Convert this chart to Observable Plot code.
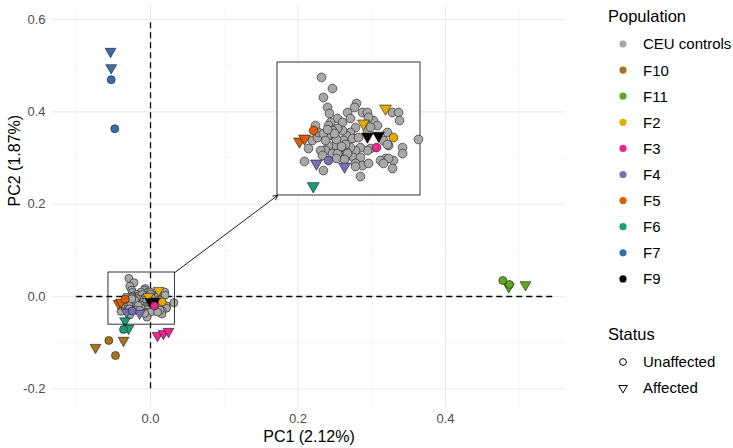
<!DOCTYPE html>
<html><head><meta charset="utf-8">
<script src="https://cdn.jsdelivr.net/npm/d3@7"></script>
<script src="https://cdn.jsdelivr.net/npm/@observablehq/plot@0.6"></script>
<style>
body{margin:0;background:#fff;font-family:"Liberation Sans",Arial,Helvetica,sans-serif;}
#wrap{position:relative;width:733px;height:448px;overflow:hidden;}
#legend{position:absolute;left:590px;top:0;}
</style></head><body><div id="wrap"></div>
<script>
// CEU controls (PC1, PC2)
const ceuPC1 = [-0.0293,-0.0224,-0.0281,-0.0255,-0.0243,-0.0073,-0.0085,-0.0129,-0.0035,-0.0004,0.0154,0.0192,0.0198,-0.0192,-0.0236,-0.0161,-0.0249,-0.0331,0.0034,0.0059,0.0003,-0.0004,-0.0111,-0.0079,-0.0111,-0.0136,-0.0161,-0.0192,-0.0224,-0.0249,-0.0205,-0.0155,-0.0098,-0.0060,0.0122,0.0097,0.0129,0.0217,0.0217,0.0160,0.0110,0.0078,0.0154,0.0015,-0.0004,-0.0048,-0.0079,-0.0111,-0.0142,-0.0173,-0.0205,-0.0249,-0.0268,-0.0224,-0.0192,-0.0142,-0.0092,-0.0048,-0.0079,-0.0035,0.0003,-0.0048,-0.0350,-0.0375,-0.0400,-0.0281,-0.0299,-0.0318,-0.0312,-0.0281,-0.0268,0.0317,-0.0142,-0.0129,0.0122,-0.0079,0.0129,0.0097,-0.0199,-0.0211,-0.0255,-0.0167,-0.0287,-0.0199,-0.0148,0.0015];
const ceuPC2 = [0.0393,0.0299,0.0223,0.0138,0.0087,0.0172,0.0138,0.0095,0.0095,0.0095,0.0095,0.0095,0.0027,0.0044,0.0010,0.0010,-0.0016,-0.0016,0.0027,-0.0016,0.0053,-0.0058,0.0044,-0.0033,-0.0075,-0.0101,-0.0058,-0.0041,-0.0058,-0.0101,-0.0118,-0.0143,-0.0126,-0.0118,-0.0075,-0.0143,-0.0186,-0.0203,-0.0254,-0.0313,-0.0296,-0.0313,-0.0381,-0.0211,-0.0228,-0.0203,-0.0228,-0.0203,-0.0228,-0.0203,-0.0186,-0.0186,-0.0228,-0.0254,-0.0254,-0.0287,-0.0287,-0.0287,-0.0338,-0.0356,-0.0338,-0.0449,-0.0143,-0.0211,-0.0321,-0.0398,-0.0228,-0.0118,-0.0075,-0.0084,-0.0143,-0.0134,-0.0177,-0.0254,-0.0177,-0.0364,-0.0296,-0.0338,-0.0134,-0.0084,-0.0050,-0.0194,-0.0270,-0.0296,-0.0304,-0.0030];

// Families
const famPop    = ["F2","F2","F2","F9","F9","F3","F3","F3","F3","F5","F5","F5","F4","F4","F4","F6","F6","F6","F10","F10","F10","F10","F7","F7","F7","F7","F11","F11","F11","F11"];
const famStatus = ["A","A","U","A","A","U","A","A","A","A","A","U","A","U","A","A","U","A","U","A","A","U","A","A","U","U","A","U","U","A"];
const famPC1    = [-0.0029,0.0110,0.0160,-0.0004,0.0066,0.0053,0.0095,0.0176,0.0244,-0.0432,-0.0400,-0.0343,-0.0325,-0.0249,-0.0148,-0.0345,-0.0366,-0.0298,-0.0565,-0.0746,-0.0366,-0.0475,-0.0542,-0.0533,-0.0533,-0.0484,0.4858,0.4777,0.4868,0.5085];
const famPC2    = [0.0002,0.0129,-0.0118,-0.0109,-0.0101,-0.0203,-0.0845,-0.0802,-0.0758,-0.0151,-0.0126,-0.0058,-0.0338,-0.0313,-0.0364,-0.0530,-0.0715,-0.0693,-0.0953,-0.1105,-0.0953,-0.1278,0.5310,0.4956,0.4696,0.3634,0.0210,0.0347,0.0260,0.0254];

const populations = ["CEU controls","F10","F11","F2","F3","F4","F5","F6","F7","F9"];
const popColors   = ["#a8a8a8","#a6761d","#66a61e","#e6ab02","#e7298a","#7570b3","#d95f02","#1b9e77","#386cb0","#000000"];
const statuses = ["Unaffected","Affected"];

const xTicks = [0, 0.2, 0.4];
const yTicks = [-0.2, 0, 0.2, 0.4, 0.6];
const xMinor = [-0.1, 0.1, 0.3, 0.5];
const yMinor = [-0.1, 0.1, 0.3, 0.5];

const zoomBox  = {x1: -0.057, x2: 0.033, y1: -0.061, y2: 0.052};
const insetBox = {x1: 0.1722, x2: 0.3661, y1: 0.2189, y2: 0.507};

const points = [
  ...ceuPC1.map((x, i) => ({pop: "CEU controls", status: "U", x, y: ceuPC2[i]})),
  ...famPop.map((p, i) => ({pop: p, status: famStatus[i], x: famPC1[i], y: famPC2[i]}))
];
const toInset = d => ({...d,
  x: insetBox.x1 + (d.x - zoomBox.x1) * (insetBox.x2 - insetBox.x1) / (zoomBox.x2 - zoomBox.x1),
  y: insetBox.y1 + (d.y - zoomBox.y1) * (insetBox.y2 - insetBox.y1) / (zoomBox.y2 - zoomBox.y1)});
const insetPoints = points.filter(d => d.x >= zoomBox.x1 && d.x <= zoomBox.x2 && d.y >= zoomBox.y1 && d.y <= zoomBox.y2).map(toInset);

const triDown = {draw(ctx, size) {
  const r = Math.sqrt(size / Math.PI);
  const R = 1.555 * r, xc = 1.347 * r, yc = 0.778 * r;
  ctx.moveTo(0, R); ctx.lineTo(xc, -yc); ctx.lineTo(-xc, -yc); ctx.closePath();
}};

const dotStyle = {x: "x", y: "y", fill: "pop", stroke: "#1a1a1a", strokeWidth: 0.6};
const layer = (data, r) => [
  Plot.dot(data.filter(d => d.pop === "CEU controls"), {...dotStyle, r, symbol: "circle"}),
  Plot.dot(data.filter(d => d.pop !== "CEU controls" && d.status === "A"), {...dotStyle, r, symbol: triDown}),
  Plot.dot(data.filter(d => d.pop !== "CEU controls" && d.status === "U"), {...dotStyle, r, symbol: "circle"})
];

const fmt = d => d.toFixed(1);
const chart = Plot.plot({
  width: 733, height: 448,
  marginLeft: 52, marginRight: 168, marginTop: 5, marginBottom: 41,
  x: {domain: [-0.1329, 0.5627]},
  y: {domain: [-0.2405, 0.6305]},
  color: {domain: populations, range: popColors},
  style: {fontFamily: '"Liberation Sans", Arial, sans-serif', background: "white", overflow: "visible"},
  marks: [
    Plot.ruleX(xMinor, {stroke: "#f2f2f2", strokeWidth: 0.6}),
    Plot.ruleY(yMinor, {stroke: "#f2f2f2", strokeWidth: 0.6}),
    Plot.ruleX(xTicks, {stroke: "#ebebeb", strokeWidth: 1.1}),
    Plot.ruleY(yTicks, {stroke: "#ebebeb", strokeWidth: 1.1}),
    Plot.ruleX([0], {y1: -0.2, y2: 0.6, stroke: "black", strokeWidth: 1.3, strokeDasharray: "6,4"}),
    Plot.ruleY([0], {x1: -0.1, x2: 0.55, stroke: "black", strokeWidth: 1.3, strokeDasharray: "6,4"}),
    Plot.axisX({ticks: xTicks, tickSize: 0, tickPadding: 6, tickFormat: fmt, fontSize: 13, fill: "#4d4d4d", label: null}),
    Plot.axisY({ticks: yTicks, tickSize: 0, tickPadding: 7, tickFormat: fmt, fontSize: 13, fill: "#4d4d4d", label: null}),
    Plot.text(["PC1 (2.12%)"], {frameAnchor: "bottom", dy: 29, fontSize: 16, fill: "black", lineAnchor: "middle"}),
    Plot.text(["PC2 (1.87%)"], {frameAnchor: "left", dx: -38, rotate: -90, fontSize: 16, fill: "black", lineAnchor: "middle"}),
    ...layer(points, 4),
    Plot.rect([zoomBox], {x1: "x1", x2: "x2", y1: "y1", y2: "y2", fill: "none", stroke: "black", strokeWidth: 0.8}),
    Plot.arrow([{x1: zoomBox.x2, y1: zoomBox.y2, x2: insetBox.x1, y2: insetBox.y1}], {x1: "x1", y1: "y1", x2: "x2", y2: "y2", stroke: "black", strokeWidth: 0.9, headLength: 8}),
    Plot.rect([insetBox], {x1: "x1", x2: "x2", y1: "y1", y2: "y2", fill: "white", stroke: "black", strokeWidth: 0.8}),
    ...layer(insetPoints, 4.4)
  ]
});
const wrap = document.getElementById("wrap");
wrap.appendChild(chart);

// Legend
const lg = d3.select(wrap).append("svg").attr("id", "legend").attr("width", 143).attr("height", 448)
  .style("font-family", '"Liberation Sans", Arial, sans-serif');
lg.append("text").attr("x", 18).attr("y", 22).attr("font-size", 16.5).attr("fill", "black").text("Population");
populations.forEach((p, i) => {
  const cy = 44 + 26.1 * i;
  lg.append("circle").attr("cx", 33).attr("cy", cy).attr("r", 3.6).attr("fill", popColors[i]);
  lg.append("text").attr("x", 53).attr("y", cy).attr("dy", "0.36em").attr("font-size", 15).attr("fill", "black").text(p);
});
lg.append("text").attr("x", 18).attr("y", 340).attr("font-size", 16.5).attr("fill", "black").text("Status");
statuses.forEach((s, i) => {
  const cy = 362 + 26 * i;
  if (i === 0) lg.append("circle").attr("cx", 33).attr("cy", cy).attr("r", 3.4).attr("fill", "none").attr("stroke", "black").attr("stroke-width", 1);
  else { const p = d3.path(); triDown.draw(p, Math.PI * 3.2 * 3.2); lg.append("path").attr("transform", `translate(33,${cy})`).attr("d", p.toString()).attr("fill", "none").attr("stroke", "black").attr("stroke-width", 1); }
  lg.append("text").attr("x", 53).attr("y", cy).attr("dy", "0.36em").attr("font-size", 15).attr("fill", "black").text(s);
});
</script></body></html>
